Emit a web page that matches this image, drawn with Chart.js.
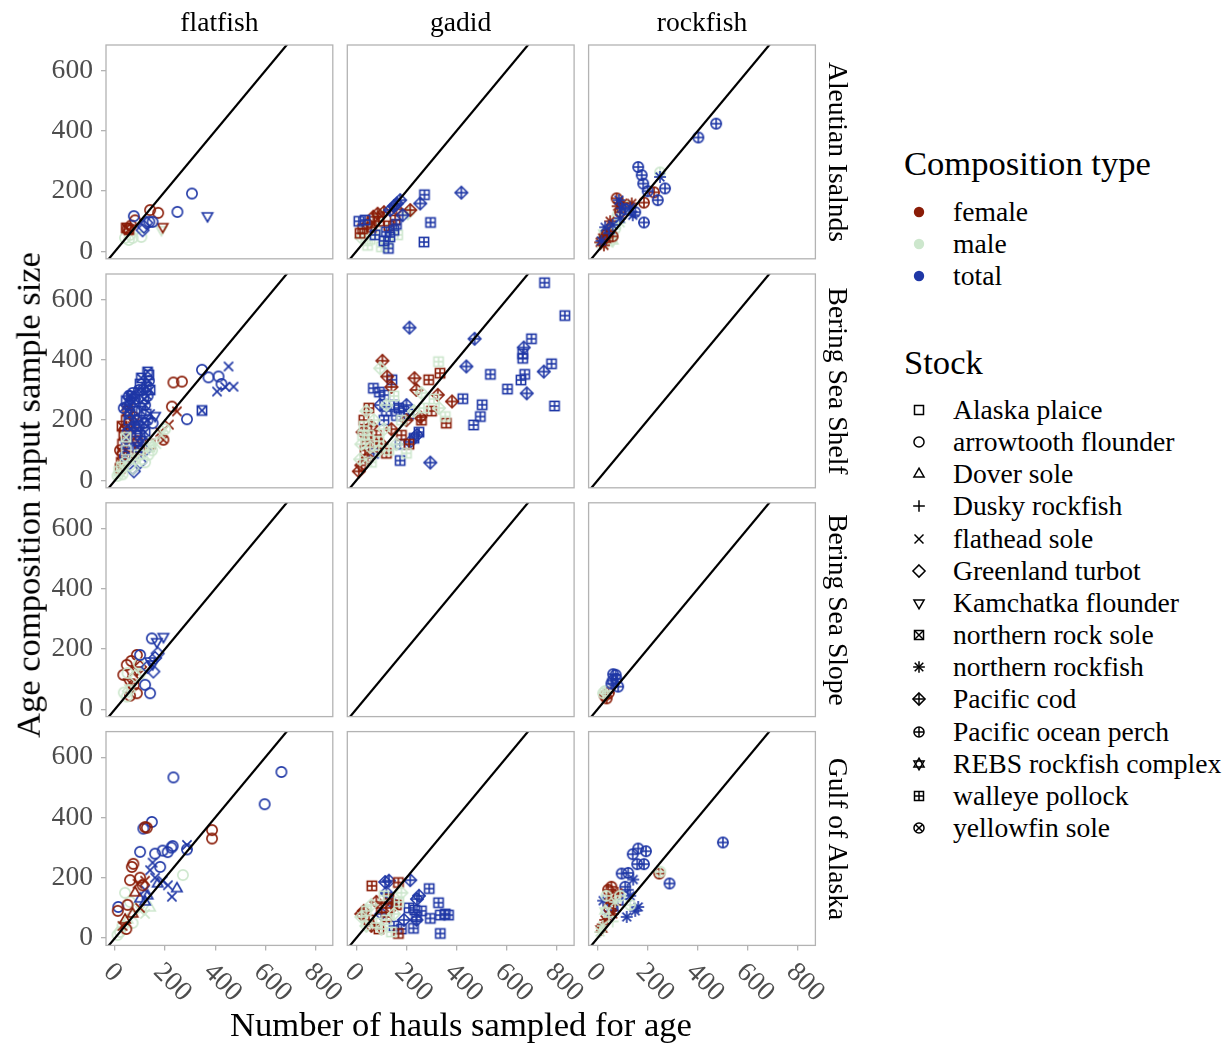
<!DOCTYPE html>
<html><head><meta charset="utf-8">
<script src="https://cdn.jsdelivr.net/npm/chart.js@4.4.1/dist/chart.umd.min.js"></script>
<style>
html,body{margin:0;padding:0;background:#fff;}
body{width:1230px;height:1045px;position:relative;overflow:hidden;font-family:"Liberation Serif","Times New Roman",serif;color:#000;}
canvas.panel{position:absolute;}
.t{position:absolute;white-space:nowrap;line-height:1;}
</style></head><body>
<script>
// ---------- DATA ----------
const regions = ['Aleutian Isalnds','Bering Sea Shelf','Bering Sea Slope','Gulf of Alaska'];
const groups = ['flatfish','gadid','rockfish'];
const compTypes = ['female','male','total'];
const compCodes = ['f','m','t'];
const compColors = ['#8a1c07','#cde7cd','#1f37a6'];
const stockNames = ['Alaska plaice','arrowtooth flounder','Dover sole','Dusky rockfish','flathead sole','Greenland turbot','Kamchatka flounder','northern rock sole','northern rockfish','Pacific cod','Pacific ocean perch','REBS rockfish complex','walleye pollock','yellowfin sole'];
const stockCodes = ['AP','ATF','DS','DR','FS','GT','KF','NRS','NR','PC','POP','REBS','WP','YF'];
const xTicks = [0,200,400,600,800];
const yTicks = [0,200,400,600];
const xRange = [-36, 869];
const yRange = [-24.6, 685];
const oneToOne = [-100, 1000];
const xTitle = 'Number of hauls sampled for age';
const yTitle = 'Age composition input sample size';

// rows: [stock, composition type, hauls sampled, input sample size]
const ai_flatfish = [
 ['ATF','m',40,45],['ATF','m',55,38],['ATF','m',70,45],['ATF','m',105,48],['ATF','m',60,55],['KF','m',185,72],
 ['NRS','f',45,78],['NRS','f',55,72],['ATF','f',50,75],['ATF','f',65,86],['ATF','f',80,103],
 ['ATF','f',140,137],['ATF','f',172,128],['KF','f',190,82],
 ['GT','t',115,82],['GT','t',125,95],['ATF','t',150,98],['ATF','t',137,98],['GT','t',110,70],
 ['ATF','t',75,117],['ATF','t',249,131],['ATF','t',307,192],['KF','t',369,118]
];
const ai_gadid = [
 ['WP','m',30,60],['WP','m',45,20],['WP','m',55,40],['PC','m',70,100],['WP','m',100,15],['WP','m',125,30],['PC','m',95,120],['WP','m',140,75],['PC','m',205,126],['WP','m',165,55],['PC','m',40,85],['WP','m',80,70],['PC','m',20,45],
 ['WP','f',15,60],['WP','f',25,75],['PC','f',45,90],['PC','f',68,115],['WP','f',90,100],['PC','f',110,130],['WP','f',155,104],['PC','f',215,137],['WP','f',130,85],['PC','f',160,140],['WP','f',60,80],['PC','f',85,125],
 ['WP','t',10,100],['WP','t',35,104],['WP','t',75,55],['WP','t',110,35],['WP','t',128,10],['WP','t',134,48],['PC','t',135,137],['PC','t',150,150],['PC','t',162,159],['PC','t',175,170],['WP','t',160,90],['PC','t',255,159],['WP','t',272,188],['WP','t',296,96],['WP','t',270,31],['PC','t',419,195],['WP','t',120,65],['PC','t',185,120],['WP','t',150,70]
];
const ai_rockfish = [
 ['NR','m',15,25],['NR','m',30,40],['POP','m',45,50],['REBS','m',25,60],['NR','m',55,65],['POP','m',70,75],['NR','m',90,95],['POP','m',80,120],['NR','m',100,140],['POP','m',249,262],['REBS','m',60,35],['POP','m',120,150],['NR','m',40,30],
 ['NR','f',10,30],['NR','f',20,45],['POP','f',35,55],['NR','f',40,70],['POP','f',60,50],['NR','f',50,100],['POP','f',76,176],['NR','f',80,150],['NR','f',100,160],['NR','f',136,159],['POP','f',185,162],['POP','f',225,196],['REBS','f',30,40],['POP','f',90,130],['NR','f',25,20],
 ['NR','t',15,35],['NR','t',30,80],['DR','t',45,60],['NR','t',60,88],['NR','t',90,110],['NR','t',96,143],['NR','t',85,170],['POP','t',110,140],['NR','t',130,145],['POP','t',150,130],['POP','t',185,96],['POP','t',162,280],['POP','t',176,253],['POP','t',182,225],['NR','t',249,247],['POP','t',269,209],['POP','t',240,170],['POP','t',402,378],['POP','t',473,424],['POP','t',200,200],['NR','t',140,120]
];
const bss_flatfish = [
 ['NRS','f',20,40],['NRS','f',25,60],['YF','f',30,90],['AP','f',30,120],['NRS','f',35,150],['YF','f',40,170],['AP','f',45,200],['NRS','f',50,230],['FS','f',55,240],['YF','f',45,140],['AP','f',60,110],['NRS','f',65,80],['FS','f',70,180],['YF','f',75,210],['ATF','f',55,190],['GT','f',40,60],['AP','f',85,160],['YF','f',90,130],['NRS','f',100,100],['ATF','f',233,325],['ATF','f',267,328],['ATF','f',227,245],['FS','f',247,229],['FS','f',215,185],['YF','f',193,135],['FS','f',180,160],['AP','f',140,120],['YF','f',20,100],['NRS','f',28,180],['AP','f',62,150],
 ['YF','t',40,80],['NRS','t',45,120],['YF','t',50,160],['AP','t',55,200],['YF','t',60,250],['NRS','t',65,280],['YF','t',70,290],['NRS','t',75,260],['AP','t',80,230],['YF','t',85,200],['NRS','t',90,170],['YF','t',95,300],['AP','t',100,320],['NRS','t',105,340],['YF','t',110,300],['NRS','t',115,270],['YF','t',120,250],['AP','t',125,220],['NRS','t',130,360],['YF','t',135,330],['NRS','t',140,300],['YF','t',130,200],['NRS','t',120,160],['YF','t',110,130],['AP','t',100,150],['ATF','t',95,180],['GT','t',120,100],['GT','t',100,60],['GT','t',70,40],['KF','t',160,215],['ATF','t',150,190],['FS','t',140,220],['YF','t',55,280],['NRS','t',45,265],['YF','t',35,240],['NRS','t',60,220],['YF','t',75,180],['AP','t',85,130],['NRS','t',90,110],['YF','t',130,280],['NRS','t',105,230],['YF','t',115,190],['NRS','t',125,310],['YF','t',80,270],['AP','t',135,350],
 ['ATF','t',347,367],['ATF','t',373,342],['ATF','t',413,345],['ATF','t',425,320],['FS','t',453,378],['FS','t',407,295],['FS','t',440,310],['FS','t',473,311],['ATF','t',287,203],['NRS','t',347,232],['GT','t',75,30],
 ['YF','m',10,15],['AP','m',15,30],['NRS','m',25,45],['YF','m',40,60],['ATF','m',60,50],['YF','m',80,70],['AP','m',95,85],['ATF','m',110,70],['ATF','m',133,85],['ATF','m',148,100],['FS','m',165,120],['FS','m',185,150],['YF','m',200,170],['NRS','m',44,143],['AP','m',45,100],['YF','m',30,20],['GT','m',70,40],['NRS','m',140,110],['ATF','m',120,60],['FS','m',150,130]
];
const bss_gadid = [
 ['PC','t',212,507],['PC','t',472,470],['WP','t',751,656],['WP','t',832,547],['WP','t',699,470],['PC','t',668,441],['WP','t',664,420],['WP','t',664,405],['WP','t',779,387],['PC','t',748,361],['WP','t',672,352],['WP','t',657,333],['WP','t',603,303],['PC','t',680,289],['WP','t',791,247],['WP','t',535,352],['PC','t',439,378],['WP','t',425,271],['WP','t',502,251],['WP','t',495,212],['WP','t',468,184],['PC','t',295,59],['WP','t',175,66],['WP','t',68,306],['WP','t',92,293],['WP','t',112,283],['WP','t',142,334],['WP','t',150,250],['WP','t',170,240],['WP','t',190,230],['WP','t',210,220],['WP','t',160,215],['PC','t',200,250],['PC','t',242,151],['PC','t',215,128],['WP','t',230,140],['WP','t',250,160],['WP','t',120,230],['WP','t',110,200],['PC','t',95,250],['WP','t',69,90],['WP','t',175,120],
 ['PC','f',104,397],['PC','f',123,345],['PC','f',232,339],['WP','f',334,356],['WP','f',289,334],['PC','f',325,284],['PC','f',382,262],['WP','f',359,190],['WP','f',300,230],['PC','f',240,300],['WP','f',260,200],['PC','f',140,310],['WP','f',30,200],['PC','f',25,160],['WP','f',40,130],['PC','f',20,50],['WP','f',35,100],['PC','f',60,180],['WP','f',80,150],['PC','f',100,120],['WP','f',120,90],['PC','f',140,170],['WP','f',180,150],['PC','f',200,200],['WP','f',50,240],['PC','f',10,30],['WP','f',210,120],['PC','f',255,210],['WP','f',70,110],['PC','f',45,75],
 ['PC','m',95,372],['WP','m',328,394],['WP','m',355,212],['PC','m',330,240],['WP','m',310,270],['PC','m',260,290],['WP','m',150,280],['PC','m',40,230],['WP','m',30,180],['PC','m',20,120],['WP','m',50,150],['PC','m',70,200],['WP','m',90,130],['PC','m',110,170],['WP','m',130,100],['PC','m',160,120],['WP','m',180,200],['PC','m',15,70],['WP','m',60,60],['PC','m',120,250],['WP','m',200,90],['PC','m',230,230],['WP','m',270,240],['PC','m',90,100],['WP','m',25,150],['PC','m',55,110]
];
const bss_rockfish = [];
const bsl_flatfish = [
 ['ATF','f',87,180],['ATF','f',47,147],['ATF','f',33,114],['ATF','f',87,53],['ATF','f',60,45],['KF','f',87,130],['GT','f',70,100],['ATF','f',75,80],['KF','f',55,90],['GT','f',100,140],['ATF','f',65,160],
 ['ATF','m',47,42],['ATF','m',35,55],['KF','m',60,70],['GT','m',80,110],['ATF','m',95,150],['KF','m',110,120],['GT','m',55,60],['ATF','m',50,120],
 ['KF','t',193,241],['KF','t',167,224],['ATF','t',147,235],['ATF','t',140,53],['GT','t',153,125],['ATF','t',120,81],['GT','t',160,170],['GT','t',170,185],['KF','t',150,150],['ATF','t',100,180],['GT','t',130,140],['KF','t',140,160]
];
const bsl_gadid = [];
const bsl_rockfish = [
 ['POP','f',36,36],['POP','f',45,55],['POP','f',28,45],['POP','m',22,53],['POP','m',30,60],
 ['POP','t',62,116],['POP','t',72,114],['POP','t',82,75],['POP','t',60,95],['POP','t',75,100],['POP','t',55,85]
];
const goa_flatfish = [
 ['ATF','m',271,209],['ATF','m',40,150],['ATF','m',60,120],['DS','m',80,100],['FS','m',100,90],['ATF','m',20,20],['DS','m',50,60],['ATF','m',30,40],['FS','m',120,80],['DS','m',140,100],['ATF','m',10,10],['ATF','m',70,50],
 ['ATF','t',664,551],['ATF','t',597,444],['ATF','t',233,533],['ATF','t',147,385],['ATF','t',113,363],['ATF','t',287,294],['FS','t',287,309],['ATF','t',100,286],['ATF','t',160,280],['ATF','t',190,290],['ATF','t',210,285],['ATF','t',225,300],['ATF','t',230,305],['ATF','t',180,236],['FS','t',227,137],['DS','t',247,164],['FS','t',211,175],['FS','t',150,250],['FS','t',140,225],['FS','t',160,200],['DS','t',170,180],['FS','t',120,160],['DS','t',130,140],['ATF','t',13,103],['DS','t',100,130],['FS','t',190,190],['DS','t',120,120],
 ['ATF','f',120,368],['ATF','f',127,366],['ATF','f',387,358],['ATF','f',387,330],['ATF','f',67,236],['ATF','f',73,246],['ATF','f',60,192],['ATF','f',11,90],['FS','f',90,180],['ATF','f',100,200],['DS','f',80,150],['FS','f',120,190],['ATF','f',110,175],['DS','f',40,60],['FS','f',30,40],['ATF','f',50,110],['DS','f',70,80],['FS','f',100,100],['ATF','f',45,30]
];
const goa_gadid = [
 ['WP','t',291,164],['WP','t',328,117],['WP','t',335,15],['WP','t',368,76],['WP','t',335,76],['WP','t',295,65],['WP','t',355,80],['PC','t',215,192],['PC','t',242,129],['PC','t',250,140],['WP','t',233,93],['WP','t',228,32],['WP','t',240,70],['WP','t',260,90],['PC','t',115,186],['PC','t',130,190],['PC','t',120,150],['PC','t',140,120],['WP','t',150,40],['WP','t',180,30],['PC','t',100,80],['PC','t',190,60],['WP','t',210,100],['PC','t',240,60],
 ['WP','f',62,173],['WP','f',168,184],['WP','f',168,15],['PC','f',30,90],['WP','f',50,60],['PC','f',80,120],['WP','f',100,100],['PC','f',60,40],['WP','f',120,70],['PC','f',140,100],['WP','f',160,110],['PC','f',20,80],['WP','f',90,30],['WP','f',130,130],
 ['PC','m',20,70],['WP','m',40,90],['PC','m',60,110],['WP','m',80,50],['PC','m',100,30],['WP','m',120,60],['PC','m',150,80],['WP','m',170,120],['PC','m',40,40],['WP','m',140,20],['PC','m',180,150],['WP','m',110,140]
];
const goa_rockfish = [
 ['POP','t',500,317],['POP','t',287,181],['POP','t',162,297],['POP','t',193,288],['POP','t',140,278],['POP','t',158,245],['POP','t',185,245],['POP','t',96,214],['POP','t',122,216],['NR','t',142,194],['NR','t',162,103],['NR','t',116,70],['NR','t',22,124],['DR','t',120,160],['NR','t',130,140],['DR','t',100,130],['NR','t',150,90],['DR','t',80,110],['POP','t',110,170],['NR','t',40,80],['REBS','t',60,100],
 ['POP','f',246,214],['POP','f',42,160],['POP','f',55,170],['NR','f',50,130],['DR','f',70,110],['NR','f',30,60],['REBS','f',15,30],['POP','f',45,100],['NR','f',80,150],['DR','f',20,45],['NR','f',60,80],
 ['POP','m',250,220],['POP','m',35,140],['NR','m',20,40],['DR','m',45,70],['REBS','m',30,90],['NR','m',70,120],['POP','m',130,110],['DR','m',60,55],['NR','m',10,20],['POP','m',90,140]
];
const panelData = [
 [ai_flatfish, ai_gadid, ai_rockfish],
 [bss_flatfish, bss_gadid, bss_rockfish],
 [bsl_flatfish, bsl_gadid, bsl_rockfish],
 [goa_flatfish, goa_gadid, goa_rockfish]
];

// ---------- LAYOUT / STYLE ----------
const FONT = '"Liberation Serif","Times New Roman",serif';
const PANEL_LEFT = [106, 347.3, 588.6], PANEL_W = 226.8;
const PANEL_TOP = [45, 274, 502.8, 731.6], PANEL_H = 213.8;
const GREY = '#b3b3b3', TICKTXT = '#4d4d4d';
const BASE = 27.6, TITLE = 34.6;
const YAXIS_W = 70;

function drawSymbol(ctx, code, cx, cy, s, color, lw){
  ctx.strokeStyle = color; ctx.lineWidth = lw; ctx.lineJoin = 'miter';
  const line = (x1,y1,x2,y2)=>{ctx.beginPath();ctx.moveTo(cx+x1,cy+y1);ctx.lineTo(cx+x2,cy+y2);ctx.stroke();};
  const square = ()=>ctx.strokeRect(cx-s,cy-s,2*s,2*s);
  const rc = s*1.12;
  const circle = ()=>{ctx.beginPath();ctx.arc(cx,cy,rc,0,Math.PI*2);ctx.stroke();};
  const R = s*1.3;
  const tri = d=>{ctx.beginPath();ctx.moveTo(cx,cy-d*R);ctx.lineTo(cx+R*0.866,cy+d*R*0.5);ctx.lineTo(cx-R*0.866,cy+d*R*0.5);ctx.closePath();ctx.stroke();};
  const D = s*1.35;
  const diamond = ()=>{ctx.beginPath();ctx.moveTo(cx,cy-D);ctx.lineTo(cx+D,cy);ctx.lineTo(cx,cy+D);ctx.lineTo(cx-D,cy);ctx.closePath();ctx.stroke();};
  const plus = a=>{line(-a,0,a,0);line(0,-a,0,a);};
  const cross = a=>{line(-a,-a,a,a);line(-a,a,a,-a);};
  switch(code){
    case 'AP': square(); break;
    case 'ATF': circle(); break;
    case 'DS': tri(1); break;
    case 'DR': plus(s*1.3); break;
    case 'FS': cross(s); break;
    case 'GT': diamond(); break;
    case 'KF': tri(-1); break;
    case 'NRS': square(); cross(s); break;
    case 'NR': plus(s*1.3); cross(s*0.95); break;
    case 'PC': diamond(); plus(D); break;
    case 'POP': circle(); plus(rc); break;
    case 'REBS': tri(1); tri(-1); break;
    case 'WP': square(); plus(s); break;
    case 'YF': circle(); cross(rc*0.707); break;
  }
}
const symCache = {};
function symbolCanvas(code, color, s, lw, size){
  const key = code+'|'+color+'|'+s+'|'+size;
  if (symCache[key]) return symCache[key];
  const cv = document.createElement('canvas');
  cv.width = size; cv.height = size;
  drawSymbol(cv.getContext('2d'), code, size/2, size/2, s, color, lw);
  return symCache[key] = cv;
}
function pointSym(stock, type){
  return symbolCanvas(stock, compColors[compCodes.indexOf(type)], 4.6, 1.6, 18);
}

const borderPlugin = {
  id: 'panelBorder',
  afterDraw(chart){
    const a = chart.chartArea, ctx = chart.ctx;
    ctx.save(); ctx.strokeStyle = GREY; ctx.lineWidth = 1.3;
    ctx.strokeRect(a.left, a.top, a.right-a.left, a.bottom-a.top);
    ctx.restore();
  }
};
const xLabelPlugin = {
  id: 'xlabels',
  afterDraw(chart, args, opts){
    if (!opts.show) return;
    const xs = chart.scales.x, ctx = chart.ctx, bottom = chart.chartArea.bottom;
    ctx.save();
    ctx.font = BASE + 'px ' + FONT; ctx.fillStyle = TICKTXT;
    ctx.textAlign = 'left'; ctx.textBaseline = 'middle';
    xs.ticks.forEach(t=>{
      const px = xs.getPixelForValue(t.value);
      ctx.save(); ctx.translate(px - 7.5, bottom + 22.5); ctx.rotate(Math.PI/4);
      ctx.fillText(String(t.value), 0, 0); ctx.restore();
    });
    ctx.restore();
  }
};

function addText(txt, x, y, size, opts={}){
  const d = document.createElement('div');
  d.className = 't'; d.textContent = txt;
  d.style.fontSize = size + 'px';
  d.style.left = x + 'px'; d.style.top = y + 'px';
  const rot = opts.rot ? ' rotate(' + opts.rot + 'deg)' : '';
  d.style.transform = (opts.left ? 'translate(0,-50%)' : 'translate(-50%,-50%)') + rot;
  if (opts.color) d.style.color = opts.color;
  document.body.appendChild(d);
  return d;
}

// ---------- PANELS ----------
for (let r = 0; r < 4; r++){
  for (let c = 0; c < 3; c++){
    const padL = c===0 ? 110 : 12, padR = c===2 ? 45 : 12, padT = 12, padB = r===3 ? 70 : 12;
    const cl = Math.floor(PANEL_LEFT[c] - padL), ct = Math.floor(PANEL_TOP[r] - padT);
    const rl = PANEL_LEFT[c] - cl, rt = PANEL_TOP[r] - ct;
    const W = Math.ceil(rl + PANEL_W + padR), H = Math.ceil(rt + PANEL_H + padB);
    const yW = c===0 ? YAXIS_W : 0;
    const cv = document.createElement('canvas');
    cv.className = 'panel'; cv.width = W; cv.height = H;
    cv.style.left = cl + 'px'; cv.style.top = ct + 'px';
    document.body.appendChild(cv);
    const pts = panelData[r][c];
    new Chart(cv.getContext('2d'), {
      type: 'scatter',
      data: { datasets: [
        { type:'line', data: oneToOne.map(v=>({x:v, y:v})), borderColor:'#000', borderWidth:2.2, pointRadius:0, clip:0, fill:false },
        { data: pts.map(p=>({x:p[2], y:p[3]})), pointStyle: pts.map(p=>pointSym(p[0], p[1])), pointRadius:5, pointHoverRadius:5 }
      ]},
      options: {
        responsive:false, devicePixelRatio:1, animation:false, events:[],
        layout: { autoPadding:false, padding: { left: rl - yW, top: rt, right: W - rl - PANEL_W, bottom: H - rt - PANEL_H } },
        plugins: { legend:{display:false}, tooltip:{enabled:false}, xlabels:{show: r===3} },
        scales: {
          x: { type:'linear', position:'bottom', min:xRange[0], max:xRange[1],
               afterBuildTicks: s=>{ s.ticks = xTicks.map(v=>({value:v})); },
               afterFit: s=>{ s.height = 0; s.paddingLeft = 0; s.paddingRight = 0; s.paddingTop = 0; s.paddingBottom = 0; },
               grid: { display: r===3, drawOnChartArea:false, drawTicks:true, tickLength:5, color:GREY, lineWidth:1.3 },
               border: { display:false }, ticks: { display:false } },
          y: { type:'linear', position:'left', min:yRange[0], max:yRange[1],
               afterBuildTicks: s=>{ s.ticks = yTicks.map(v=>({value:v})); },
               afterFit: s=>{ s.width = yW; s.paddingLeft = 0; s.paddingRight = 0; s.paddingTop = 0; s.paddingBottom = 0; },
               grid: { display: c===0, drawOnChartArea:false, drawTicks:true, tickLength:5, color:GREY, lineWidth:1.3 },
               border: { display:false },
               ticks: { display: c===0, padding:8, color:TICKTXT, font:{ family:FONT, size:BASE } } }
        }
      },
      plugins: [borderPlugin, xLabelPlugin]
    });
  }
}

// ---------- STRIPS & TITLES ----------
groups.forEach((g,c)=>addText(g, PANEL_LEFT[c] + PANEL_W/2, 22, BASE));
regions.forEach((g,r)=>addText(g, 838, PANEL_TOP[r] + PANEL_H/2, BASE, {rot:90}));
addText(yTitle, 28, 495, TITLE, {rot:-90});
addText(xTitle, 461, 1024, TITLE);

// ---------- LEGEND ----------
addText('Composition type', 904, 163, TITLE, {left:true});
compTypes.forEach((t,i)=>{
  const y = 212 + i*32.2;
  const cv = document.createElement('canvas'); cv.width = 14; cv.height = 14;
  const ctx = cv.getContext('2d'); ctx.fillStyle = compColors[i];
  ctx.beginPath(); ctx.arc(7,7,5.2,0,Math.PI*2); ctx.fill();
  cv.style.position='absolute'; cv.style.left=(919-7)+'px'; cv.style.top=(y-7)+'px';
  document.body.appendChild(cv);
  addText(t, 953, y, BASE, {left:true});
});
addText('Stock', 904, 362, TITLE, {left:true});
stockNames.forEach((n,i)=>{
  const y = 410 + i*32.15;
  const src = symbolCanvas(stockCodes[i], '#000', 4.5, 1.5, 18);
  const cv = document.createElement('canvas'); cv.width = 18; cv.height = 18;
  cv.getContext('2d').drawImage(src, 0, 0);
  cv.style.position='absolute'; cv.style.left=(919-9)+'px'; cv.style.top=(y-9)+'px';
  document.body.appendChild(cv);
  addText(n, 953, y, BASE, {left:true});
});
</script>
</body></html>
